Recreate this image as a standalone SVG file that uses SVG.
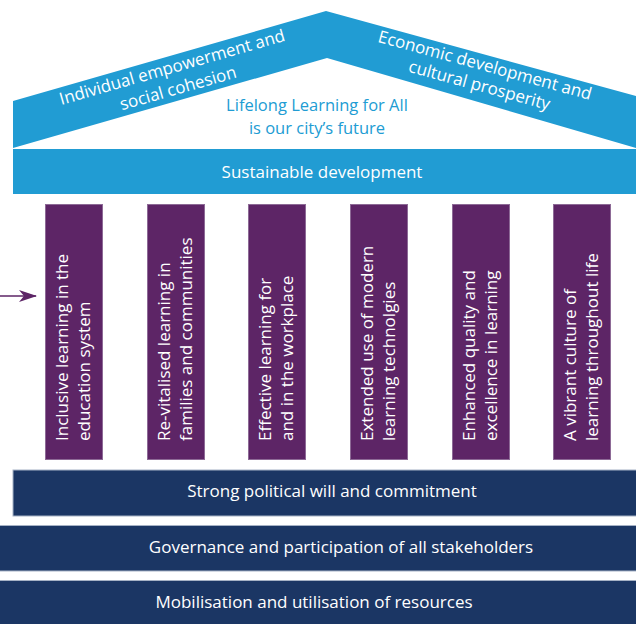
<svg xmlns="http://www.w3.org/2000/svg" width="636" height="624" viewBox="0 0 636 624">
<defs>
<style>
.t{font-family:"Open Sans","Noto Sans","Liberation Sans",sans-serif;font-size:17px;fill:#ffffff}
.c{text-anchor:middle}
.blue{fill:#219cd3}
.pillar{fill:#5d2566;stroke:#8d6a96;stroke-width:1}
.bar{fill:#1b3664;stroke:#a6b2c5;stroke-width:1}
</style>
<marker id="ah" viewBox="0 0 18 12" refX="17" refY="6" markerWidth="18" markerHeight="12" markerUnits="userSpaceOnUse" orient="auto">
<path d="M0,0 L18,6 L0,12 L5,6 Z" fill="#5d2566"/>
</marker>
</defs>
<rect width="636" height="624" fill="#ffffff"/>
<g id="roof">
<path class="blue" d="M13,101 L326,11 L636,96 L636,148 L327,58 L13,148 Z"/>
<text class="t c" transform="translate(172,67) rotate(-16)" y="6">Individual empowerment and</text>
<text class="t c" transform="translate(178,88) rotate(-16)" y="6">social cohesion</text>
<text class="t c" transform="translate(485,65) rotate(15.3)" y="6">Economic development and</text>
<text class="t c" transform="translate(479.5,85) rotate(15.3)" y="6">cultural prosperity</text>
</g>
<g id="vision">
<text class="t c" x="317" y="111" style="fill:#219cd3;font-size:16.5px">Lifelong Learning for All</text>
<text class="t c" x="317" y="134" style="fill:#219cd3;font-size:16.5px">is our city’s future</text>
</g>
<g id="sustainable">
<rect class="blue" x="13" y="149" width="623" height="45"/>
<text class="t c" x="322" y="178">Sustainable development</text>
</g>
<g id="pillar1">
<rect class="pillar" x="45.5" y="204.5" width="57" height="255"/>
<text class="t" transform="translate(68,441) rotate(-90)">Inclusive learning in the</text>
<text class="t" transform="translate(90,441) rotate(-90)">education system</text>
</g>
<g id="pillar2">
<rect class="pillar" x="147.5" y="204.5" width="57" height="255"/>
<text class="t" transform="translate(170,441) rotate(-90)">Re-vitalised learning in</text>
<text class="t" transform="translate(192,441) rotate(-90)">families and communities</text>
</g>
<g id="pillar3">
<rect class="pillar" x="248.5" y="204.5" width="57" height="255"/>
<text class="t" transform="translate(271,441) rotate(-90)">Effective learning for</text>
<text class="t" transform="translate(293,441) rotate(-90)">and in the workplace</text>
</g>
<g id="pillar4">
<rect class="pillar" x="350.5" y="204.5" width="57" height="255"/>
<text class="t" transform="translate(373,441) rotate(-90)">Extended use of modern</text>
<text class="t" transform="translate(395,441) rotate(-90)">learning technolgies</text>
</g>
<g id="pillar5">
<rect class="pillar" x="452.5" y="204.5" width="57" height="255"/>
<text class="t" transform="translate(475,441) rotate(-90)">Enhanced quality and</text>
<text class="t" transform="translate(497,441) rotate(-90)">excellence in learning</text>
</g>
<g id="pillar6">
<rect class="pillar" x="553.5" y="204.5" width="57" height="255"/>
<text class="t" transform="translate(576,441) rotate(-90)">A vibrant culture of</text>
<text class="t" transform="translate(598,441) rotate(-90)">learning throughout life</text>
</g>
<g id="foundation1">
<rect class="bar" x="13" y="470" width="624" height="46"/>
<text class="t c" x="332" y="497">Strong political will and commitment</text>
</g>
<g id="foundation2">
<rect class="bar" x="-1" y="525.5" width="638" height="45.5"/>
<text class="t c" x="341" y="553">Governance and participation of all stakeholders</text>
</g>
<g id="foundation3">
<rect class="bar" x="-1" y="580.5" width="638" height="45"/>
<text class="t c" x="314" y="608">Mobilisation and utilisation of resources</text>
</g>
<g id="connectors">
<line x1="0" y1="296" x2="36" y2="296" stroke="#5d2566" stroke-width="1.6" marker-end="url(#ah)"/>
</g>
</svg>
